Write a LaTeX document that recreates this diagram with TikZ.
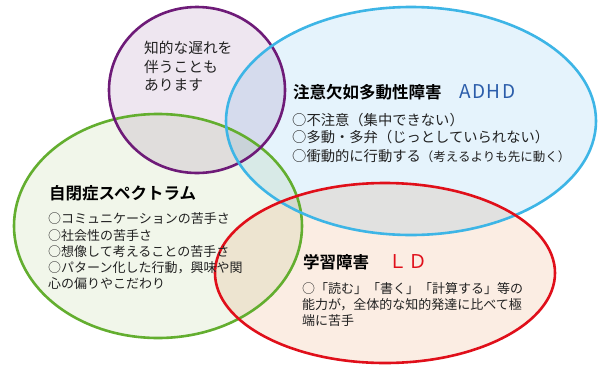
\documentclass[tikz,border=0pt]{standalone}
\usepackage{fontspec}
\setmainfont{Noto Sans CJK JP}
\newfontfamily\jpbold{Noto Sans CJK JP Bold}
\newcommand{\mk}{\makebox[1em][c]{○}}
\definecolor{pstroke}{HTML}{6E1B78}
\definecolor{pfill}{HTML}{EEE6F0}
\definecolor{bstroke}{HTML}{3DB5E6}
\definecolor{bfill}{HTML}{E5F3FC}
\definecolor{gstroke}{HTML}{63AE2F}
\definecolor{gfill}{HTML}{F1F6EA}
\definecolor{rstroke}{HTML}{E00F1A}
\definecolor{rfill}{HTML}{FBEDE3}
\definecolor{adhdblue}{HTML}{2A5CAA}
\definecolor{txt}{HTML}{222222}
\begin{document}
\begin{tikzpicture}[x=1pt,y=-1pt,
  ring/.style={line width=2.6pt},
  titletext/.style={anchor=west,inner sep=0pt,font=\jpbold\fontsize{16.5}{18}\selectfont,text=black},
  bodytext/.style={anchor=west,inner sep=0pt,font=\fontsize{13}{15}\selectfont,text=txt},
  adhdbody/.style={anchor=west,inner sep=0pt,font=\fontsize{14.3}{16}\selectfont,text=txt},
  purpletext/.style={anchor=west,inner sep=0pt,font=\fontsize{14.7}{17}\selectfont,text=txt},
  abbr/.style={anchor=west,inner sep=0pt,font=\fontsize{19}{21}\selectfont\addfontfeature{LetterSpace=8}}]
\useasboundingbox (0,0) rectangle (600,365);
\fill[white] (0,0) rectangle (600,365);
\begin{scope}[blend group=multiply]
  \fill[pfill] (197,90) ellipse [x radius=88, y radius=83];
  \fill[bfill] (411,121) ellipse [x radius=185, y radius=114];
  \fill[gfill] (158,226) ellipse [x radius=144, y radius=112];
  \fill[rfill] (385,273) ellipse [x radius=170, y radius=90];
\end{scope}
\draw[ring,gstroke] (158,226) ellipse [x radius=144, y radius=112];
\draw[ring,pstroke] (197,90) ellipse [x radius=88, y radius=83];
\draw[ring,bstroke] (411,121) ellipse [x radius=185, y radius=114];
\draw[ring,rstroke] (385,273) ellipse [x radius=170, y radius=90];
% purple
\node[purpletext] (p1) at (144,48) {知的な遅れを};
\node[purpletext] (p2) at (144,67) {伴うことも};
\node[purpletext] (p3) at (144,85) {あります};
% ADHD
\node[titletext] (at) at (293,92) {注意欠如多動性障害};
\node[abbr,text=adhdblue] (aa) at (459,92) {ADHD};
\node[adhdbody] (a1) at (292,120) {\mk 不注意（集中できない）};
\node[adhdbody] (a2) at (292,137) {\mk 多動・多弁（じっとしていられない）};
\node[adhdbody] (a3) at (292,156) {\mk 衝動的に行動する{\fontsize{12.5}{15}\selectfont（考えるよりも先に動く）}};
% green
\node[titletext] (gt) at (49,193) {自閉症スペクトラム};
\node[bodytext] (g1) at (48,219) {\mk コミュニケーションの苦手さ};
\node[bodytext] (g2) at (48,236) {\mk 社会性の苦手さ};
\node[bodytext] (g3) at (48,252) {\mk 想像して考えることの苦手さ};
\node[bodytext] (g4) at (48,268) {\mk パターン化した行動，興味や関};
\node[bodytext] (g5) at (48,284) {心の偏りやこだわり};
% red
\node[titletext] (rt) at (303,262) {学習障害};
\node[abbr,text=rstroke] (rl) at (388,262) {ＬＤ};
\node[bodytext] (r1) at (302,289) {\mk「読む」「書く」「計算する」等の};
\node[bodytext] (r2) at (302,305) {能力が，全体的な知的発達に比べて極};
\node[bodytext] (r3) at (302,321) {端に苦手};
\end{tikzpicture}
\end{document}
